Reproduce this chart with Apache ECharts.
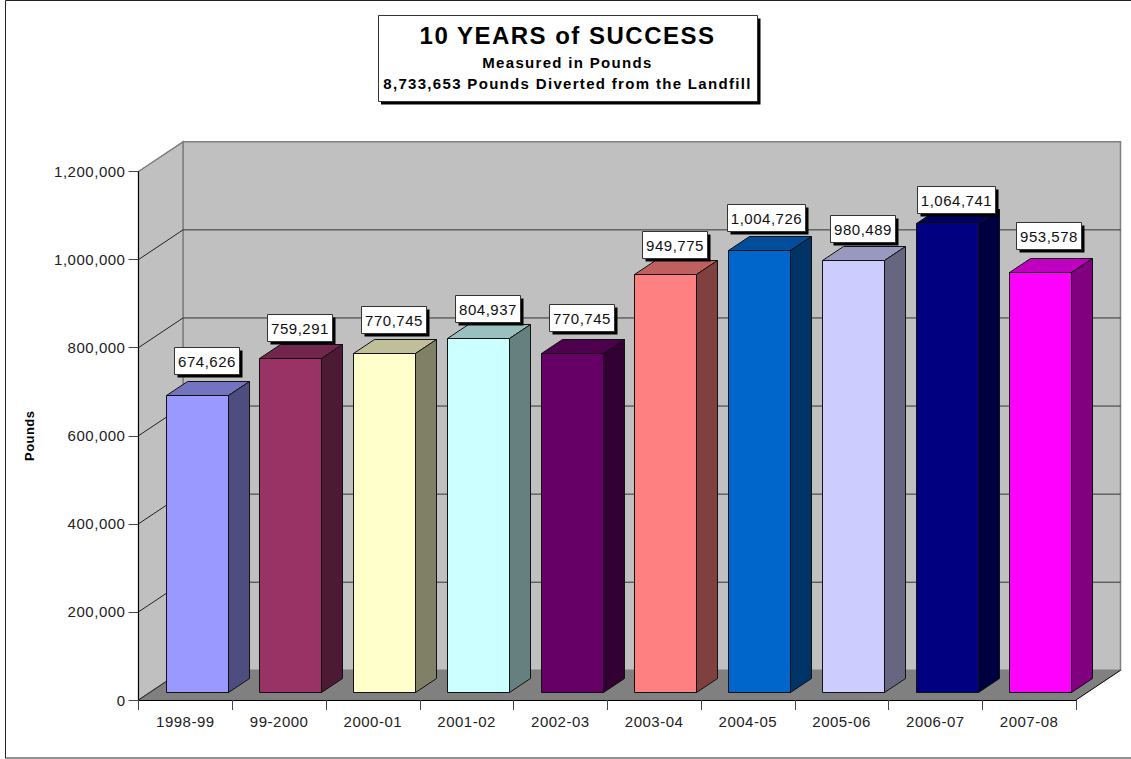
<!DOCTYPE html>
<html>
<head>
<meta charset="utf-8">
<style>
html,body{margin:0;padding:0;background:#fff}
#c{width:1131px;height:759px}
svg text{letter-spacing:.035em}
svg text[style*="bold 24px"]{letter-spacing:.062em}
svg text[style*="bold 15px"]{letter-spacing:.088em}
svg text[style*="bold 13px"]{letter-spacing:.03em}
</style>
<script src="https://cdn.jsdelivr.net/npm/echarts@6/dist/echarts.min.js"></script>
</head>
<body>
<div id="c"></div>
<script>
const categories = ['1998-99','99-2000','2000-01','2001-02','2002-03','2003-04','2004-05','2005-06','2006-07','2007-08'];
const pounds = [674626,759291,770745,804937,770745,949775,1004726,980489,1064741,953578];
const yTicks = [0,200000,400000,600000,800000,1000000,1200000];
const barColors = ['#9999FF','#993366','#FFFFCC','#CCFFFF','#660066','#FF8080','#0066CC','#CCCCFF','#000080','#FF00FF'];
const titleLines = ['10 YEARS of SUCCESS','Measured in Pounds','8,733,653 Pounds Diverted from the Landfill'];
// hand-placed data label nudges (px from the front-top centre of each bar)
const labelNudgeX = [9,8.75,8.8,9,9,8.75,6.5,9,8.5,7.8];
const labelNudgeY = [-34.5,-30.7,-33.2,-29.1,-35.2,-29.4,-32.5,-32.4,-23.8,-37.2];

const FONT = '"Liberation Sans", Arial, sans-serif';
const WALL_DX = 44.5, WALL_DY = -29.7;      // depth of the chart box
const BAR_DX = 21, BAR_DY = -14;            // depth of a bar
const BAR_IN_DX = 11.5, BAR_IN_DY = -7.7;   // bar's front inset from the front plane
const BAR_W = 62.5;

function shade(hex, k){
  const n = parseInt(hex.slice(1),16);
  const c = s => Math.round(((n>>s)&255)*k);
  return `rgb(${c(16)},${c(8)},${c(0)})`;
}
const poly = (points, fill, stroke, lw) => ({
  type:'polygon', shape:{points},
  style:{fill, stroke:stroke||'none', lineWidth:lw||0}
});
const seg = (x1,y1,x2,y2,stroke,lw) => ({
  type:'line', shape:{x1,y1,x2,y2}, style:{stroke, lineWidth:lw||1, fill:'none'}
});

function renderWalls(params, api){
  const g = params.coordSys;
  const L=g.x, R=g.x+g.width, T=g.y, B=g.y+g.height;
  const bl=L+WALL_DX, br=R+WALL_DX, bt=T+WALL_DY, bb=B+WALL_DY;
  const children = [
    poly([[bl,bt],[br,bt],[br,bb],[bl,bb]],'#C0C0C0','#808080',1.5),
    poly([[L,T],[bl,bt],[bl,bb],[L,B]],'#C0C0C0','#808080',1.5),
    poly([[L,B],[R,B],[br,bb],[bl,bb]],'#808080')
  ];
  yTicks.forEach(t=>{
    if(t===0) return;
    const y = api.coord([0,t])[1];
    if(t<yTicks[yTicks.length-1]){
      children.push(seg(L,y,bl,y+WALL_DY,'#222'));
      children.push(seg(bl,y+WALL_DY,br,y+WALL_DY,'#333'));
    }
  });
  children.push(seg(L,T,bl,bt,'#808080'));
  children.push(seg(L,B,bl,bb,'#222'));
  children.push(seg(R,B,br,bb,'#000'));
  return {type:'group', children};
}

function renderBar(params, api){
  const i = api.value(0);
  const top = api.coord([i, api.value(1)]);
  const bot = api.coord([i, 0]);
  const x0 = Math.round(top[0]+BAR_IN_DX-BAR_W/2)+.5, x1 = Math.round(x0+BAR_W)-.5;
  const y0 = Math.round(top[1]+BAR_IN_DY)+.5, y1 = Math.round(bot[1]+BAR_IN_DY)+.5;
  const col = barColors[i];
  return {type:'group', children:[
    poly([[x0,y0],[x1,y0],[x1,y1],[x0,y1]],col,'#111',1),
    poly([[x0,y0],[x0+BAR_DX,y0+BAR_DY],[x1+BAR_DX,y0+BAR_DY],[x1,y0]],shade(col,.75),'#111',1),
    poly([[x1,y0],[x1+BAR_DX,y0+BAR_DY],[x1+BAR_DX,y1+BAR_DY],[x1,y1]],shade(col,.5),'#111',1)
  ]};
}

function renderLabel(params, api){
  const i = api.value(0), v = api.value(1);
  const top = api.coord([i, v]);
  const cx = top[0]+11.7+labelNudgeX[i], cy = top[1]+BAR_IN_DY+labelNudgeY[i];
  const w = v>=1000000 ? 78 : 65, h = 27;
  const x = Math.round(cx-w/2)+.5, y = Math.round(cy-h/2)+.5;
  return {type:'group', children:[
    {type:'rect', shape:{x:x+3,y:y+3,width:w,height:h}, style:{fill:'#000'}},
    {type:'rect', shape:{x,y,width:w,height:h}, style:{fill:'#fff',stroke:'#333',lineWidth:1}},
    {type:'text', style:{x:x+w/2,y:y+h/2,text:v.toLocaleString('en-US'),
      font:'15px '+FONT,fill:'#111',align:'center',verticalAlign:'middle'}}
  ]};
}

const chart = echarts.init(document.getElementById('c'), null, {renderer:'svg'});
const barData = pounds.map((v,i)=>[i,v]);
const titleX = 567.5;
chart.setOption({
  animation:false,
  backgroundColor:'#fff',
  grid:{left:138.5, right:1131-1076, top:171.5, bottom:59, containLabel:false},
  xAxis:{
    type:'category', data:categories, z:5,
    boundaryGap:true,
    axisLine:{lineStyle:{color:'#000',width:1}},
    axisTick:{show:true,length:10,alignWithLabel:false,lineStyle:{color:'#444'}},
    axisLabel:{fontFamily:FONT,fontSize:15,color:'#222',margin:14,interval:0},
    splitLine:{show:false}
  },
  yAxis:{
    type:'value', min:0, max:1200000, interval:200000, z:5,
    name:'Pounds', nameLocation:'middle', nameGap:103, nameRotate:90,
    nameTextStyle:{fontFamily:FONT,fontSize:13,fontWeight:'bold',color:'#000'},
    axisLine:{show:true,lineStyle:{color:'#000',width:1}},
    axisTick:{show:true,length:10,lineStyle:{color:'#444'}},
    axisLabel:{fontFamily:FONT,fontSize:15,color:'#222',margin:13,
      formatter:v=>v.toLocaleString('en-US')},
    splitLine:{show:false}
  },
  series:[
    {type:'custom',name:'walls',z:1,clip:false,silent:true,renderItem:renderWalls,data:[[0,0]],encode:{x:0,y:1}},
    {type:'custom',name:'Pounds',z:2,clip:false,renderItem:renderBar,data:barData,encode:{x:0,y:1}},
    {type:'custom',name:'labels',z:6,clip:false,silent:true,renderItem:renderLabel,data:barData,encode:{x:0,y:1}}
  ],
  graphic:[
    {type:'polyline',silent:true,shape:{points:[[1131,0.5],[5.5,0.5],[5.5,758],[1131,758]]},style:{stroke:'#222',lineWidth:1,fill:'none'}},
    {type:'rect',silent:true,shape:{x:381,y:18.5,width:379.5,height:86},style:{fill:'#000'}},
    {type:'rect',silent:true,shape:{x:378.5,y:15.5,width:379,height:86},style:{fill:'#fff',stroke:'#333',lineWidth:1}},
    {type:'text',silent:true,style:{x:titleX,y:35.5,text:titleLines[0],font:'bold 24px '+FONT,fill:'#000',align:'center',verticalAlign:'middle'}},
    {type:'text',silent:true,style:{x:titleX,y:62.5,text:titleLines[1],font:'bold 15px '+FONT,fill:'#000',align:'center',verticalAlign:'middle'}},
    {type:'text',silent:true,style:{x:titleX,y:83,text:titleLines[2],font:'bold 15px '+FONT,fill:'#000',align:'center',verticalAlign:'middle'}}
  ]
});
</script>
</body>
</html>
